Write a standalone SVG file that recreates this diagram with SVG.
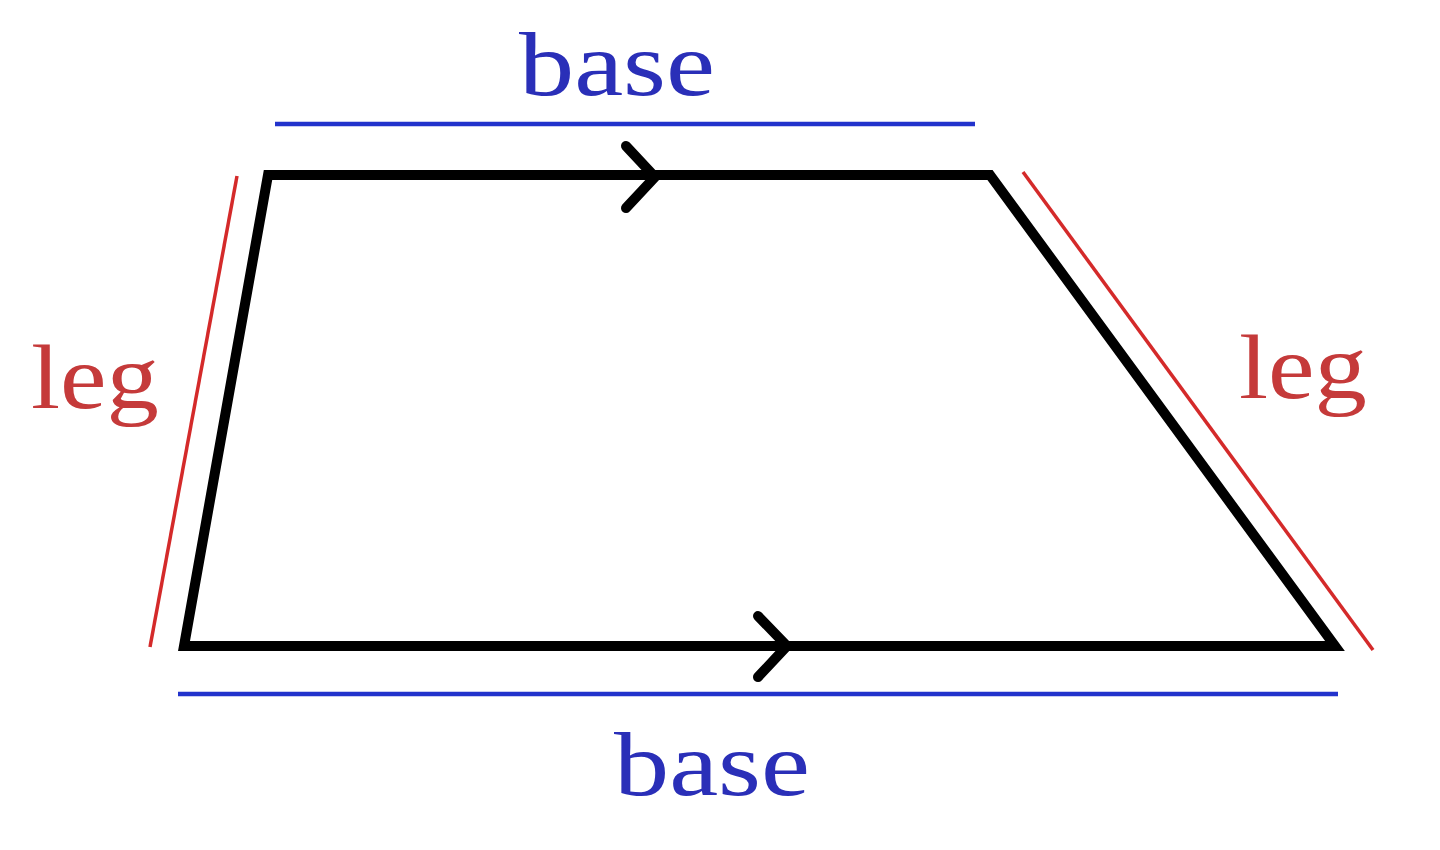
<svg xmlns="http://www.w3.org/2000/svg" width="1440" height="850" viewBox="0 0 1440 850">
<style>
.shape{fill:none;stroke:#000;stroke-width:10;stroke-linejoin:miter}
.chev{fill:none;stroke:#000;stroke-width:10;stroke-linecap:round;stroke-linejoin:miter}
.base{stroke:#2233cc;stroke-width:4.5}
.leg{stroke:#d42a2a;stroke-width:3.5}
.tb{font-family:"Liberation Serif","DejaVu Serif",serif;font-size:92px;fill:#2a2fb8;text-anchor:middle}
.tl{font-family:"Liberation Serif","DejaVu Serif",serif;font-size:92px;fill:#c53a3a;text-anchor:middle}
</style>
<rect width="1440" height="850" fill="#fff"/>
<g id="trapezoid">
<polygon class="shape" points="268,175 990,175 1335,646 184,646"/>
<polyline class="chev" points="626,146 655,177 626,208"/>
<polyline class="chev" points="758,616 787,646 758,677"/>
</g>
<g id="connectors">
<line class="base" x1="275" y1="124" x2="975" y2="124"/>
<line class="base" x1="178" y1="694" x2="1338" y2="694"/>
<line class="leg" x1="237" y1="176" x2="150" y2="647"/>
<line class="leg" x1="1023" y1="172" x2="1373" y2="650"/>
</g>
<g id="label-top"><text class="tb" x="617" y="95" textLength="196" lengthAdjust="spacingAndGlyphs">base</text></g>
<g id="label-bottom"><text class="tb" x="712" y="795" textLength="196" lengthAdjust="spacingAndGlyphs">base</text></g>
<g id="label-left"><text class="tl" x="95" y="408" textLength="128" lengthAdjust="spacingAndGlyphs">leg</text></g>
<g id="label-right"><text class="tl" x="1303" y="398" textLength="128" lengthAdjust="spacingAndGlyphs">leg</text></g>
</svg>
